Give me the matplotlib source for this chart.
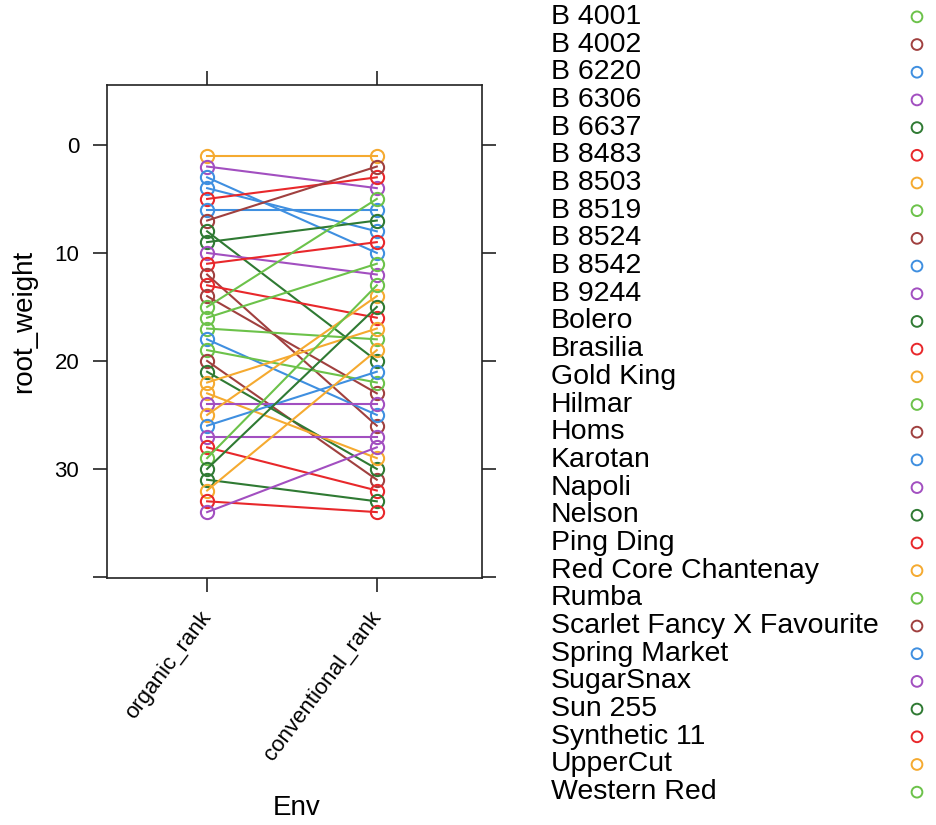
import matplotlib.pyplot as plt
import numpy as np

plt.rcParams['font.family'] = ['Liberation Sans', 'DejaVu Sans']

# legend order (groups)
varieties = [
    "B 4001", "B 4002", "B 6220", "B 6306", "B 6637", "B 8483", "B 8503",
    "B 8519", "B 8524", "B 8542", "B 9244", "Bolero", "Brasilia", "Gold King",
    "Hilmar", "Homs", "Karotan", "Napoli", "Nelson", "Ping Ding",
    "Red Core Chantenay", "Rumba", "Scarlet Fancy X Favourite", "Spring Market",
    "SugarSnax", "Sun 255", "Synthetic 11", "UpperCut", "Western Red",
]
palette = ["#6cc24a", "#a0403f", "#3f8fe0", "#a24fc0", "#2f7a33", "#e8282b", "#f5aa30"]

envs = ["organic_rank", "conventional_rank"]

# one row per line
line_variety = [
    "B 8503", "B 6306", "B 6220", "B 8542", "B 8483", "Karotan", "B 4002",
    "B 6637", "Bolero", "B 9244", "Brasilia", "B 8524", "Ping Ding", "Homs",
    "B 4001", "B 8519", "Hilmar", "Spring Market", "Rumba",
    "Scarlet Fancy X Favourite", "Nelson", "Gold King", "Red Core Chantenay",
    "Napoli", "UpperCut", "Karotan", "SugarSnax", "Synthetic 11", "Western Red",
    "Sun 255", "Nelson", "Gold King", "Synthetic 11", "Napoli",
]
organic_rank = [1, 2, 3, 4, 5, 6, 7, 8, 9, 10, 11, 12, 13, 14, 15, 16, 17,
                18, 19, 20, 21, 22, 23, 24, 25, 26, 27, 28, 29, 30, 31, 32, 33, 34]
conventional_rank = [1, 4, 10, 8, 3, 6, 2, 20, 7, 12, 9, 26, 16, 23, 5, 11, 18,
                     25, 22, 31, 30, 17, 29, 24, 14, 21, 27, 32, 13, 15, 33, 19, 34, 28]

color_of = {v: palette[i % len(palette)] for i, v in enumerate(varieties)}

fig = plt.figure(figsize=(9.36, 8.25), dpi=100)
ax = fig.add_axes([107 / 936, 1 - 578 / 825, 375 / 936, 493 / 825])

x = np.arange(len(envs)) + 1
for v, o, c in zip(line_variety, organic_rank, conventional_rank):
    ax.plot(x, [o, c], color=color_of[v], lw=1.5, marker='o', ms=9.5,
            mfc='none', mew=1.5)

ax.set_xlim(0.41, 2.62)
ax.set_ylim(40.1, -5.55)
ax.set_xticks(x)
ax.set_xticklabels(envs, rotation=53, ha='right', va='center',
                   rotation_mode='anchor', fontsize=16)
ax.set_yticks([0, 10, 20, 30, 40])
ax.set_yticklabels(['0', '10', '20', '30', ''], fontsize=16)
ax.tick_params(direction='out', length=10, width=1.2, color='#222222',
               top=True, right=True, labeltop=False, labelright=False)
ax.tick_params(axis='y', pad=10)
ax.tick_params(axis='x', pad=16)
for s in ax.spines.values():
    s.set_linewidth(1.2)
    s.set_color('#222222')

ax.set_xlabel('Env', fontsize=20)
ax.xaxis.label.set_va('center')
ax.xaxis.set_label_coords(0.505, -0.467)
ax.set_ylabel('root_weight', fontsize=20)
ax.yaxis.label.set_va('center')
ax.yaxis.set_label_coords(-0.222, 0.52)

# key on the right
lax = fig.add_axes([540 / 936, 1 - 806 / 825, 396 / 936, 803 / 825])
lax.set_xlim(0, 1)
lax.set_ylim(len(varieties) - 0.5, -0.5)
lax.axis('off')
idx = np.arange(len(varieties))
for i, v in zip(idx, varieties):
    lax.text(0.028, i, v, fontsize=20.5, va='center', ha='left')
lax.scatter(np.full(len(varieties), 0.952), idx, s=60, facecolors='none',
            edgecolors=[color_of[v] for v in varieties], linewidths=1.4)

fig.savefig('out.png', dpi=100)
